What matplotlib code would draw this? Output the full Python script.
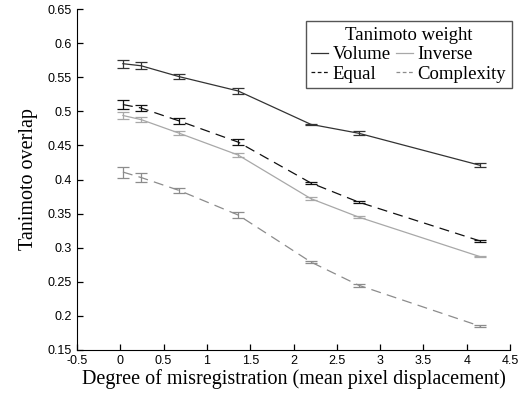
import matplotlib
matplotlib.use("Agg")
import matplotlib.pyplot as plt

# -------------------------------
# Data
# -------------------------------
shift = [0.03, 0.24, 0.68, 1.36, 2.2, 2.75, 4.15]

volume = [0.570, 0.567, 0.551, 0.530, 0.481, 0.468, 0.421]
volume_err = [0.006, 0.005, 0.004, 0.004, 0.001, 0.003, 0.003]

equal = [0.510, 0.505, 0.486, 0.455, 0.395, 0.367, 0.310]
equal_err = [0.006, 0.004, 0.004, 0.004, 0.001, 0.002, 0.002]

inverse = [0.494, 0.488, 0.468, 0.436, 0.372, 0.345, 0.287]
inverse_err = [0.005, 0.004, 0.003, 0.003, 0.002, 0.001, 0.001]

complexity = [0.411, 0.403, 0.384, 0.348, 0.279, 0.245, 0.185]
complexity_err = [0.008, 0.006, 0.004, 0.005, 0.002, 0.002, 0.002]

xticks = [-0.5, 0, 0.5, 1, 1.5, 2, 2.5, 3, 3.5, 4, 4.5]
xticklabels = ["-0.5", "0", "0.5", "1", "1.5", "2", "2.5", "3", "3.5", "4", "4.5"]
yticks = [0.15, 0.2, 0.25, 0.3, 0.35, 0.4, 0.45, 0.5, 0.55, 0.6, 0.65]
yticklabels = ["0.15", "0.2", "0.25", "0.3", "0.35", "0.4", "0.45", "0.5", "0.55", "0.6", "0.65"]

# -------------------------------
# Figure
# -------------------------------
fig = plt.figure(figsize=(5.2, 3.99), dpi=100)
ax = fig.add_axes([0.148, 0.123, 0.833, 0.854])

dash = (0, (8, 5))
series = [
    ("Volume", volume, volume_err, "#333333", "-"),
    ("Inverse", inverse, inverse_err, "#a8a8a8", "-"),
    ("Equal", equal, equal_err, "#111111", dash),
    ("Complexity", complexity, complexity_err, "#8c8c8c", dash),
]

handles = {}
for name, vals, err, col, ls in series:
    cont = ax.errorbar(shift, vals, yerr=err, color=col, lw=0.9, capsize=4,
                       elinewidth=0.9, capthick=0.9)
    cont.lines[0].set_linestyle(ls)
    h, = ax.plot([], [], color=col, lw=0.9, ls="-" if ls == "-" else (0, (3, 2)))
    handles[name] = h

ax.set_xlim(-0.5, 4.5)
ax.set_ylim(0.15, 0.65)
ax.set_xticks(xticks)
ax.set_xticklabels(xticklabels)
ax.set_yticks(yticks)
ax.set_yticklabels(yticklabels)
ax.tick_params(direction="in", length=4, labelsize=9, width=0.9)
for lab in ax.get_xticklabels() + ax.get_yticklabels():
    lab.set_family("Liberation Sans")

ax.spines["top"].set_visible(False)
ax.spines["right"].set_visible(False)

ax.set_xlabel("Degree of misregistration (mean pixel displacement)",
              family="Liberation Serif", fontsize=14.5, labelpad=2)
ax.set_ylabel("Tanimoto overlap", family="Liberation Serif", fontsize=14.5,
              labelpad=7)

leg = ax.legend(
    [handles["Volume"], handles["Equal"], handles["Inverse"], handles["Complexity"]],
    ["Volume", "Equal", "Inverse", "Complexity"],
    ncol=2, title="Tanimoto weight",
    prop={"family": "Liberation Serif", "size": 13.5},
    loc="upper right", bbox_to_anchor=(1.025, 0.992),
    handlelength=0.9, handletextpad=0.25, columnspacing=0.25,
    labelspacing=0.12, borderpad=0.3, fancybox=False, framealpha=1,
    edgecolor="#555555",
)
leg.get_title().set_family("Liberation Serif")
leg.get_title().set_fontsize(13.5)

fig.savefig("out.png", dpi=100)
